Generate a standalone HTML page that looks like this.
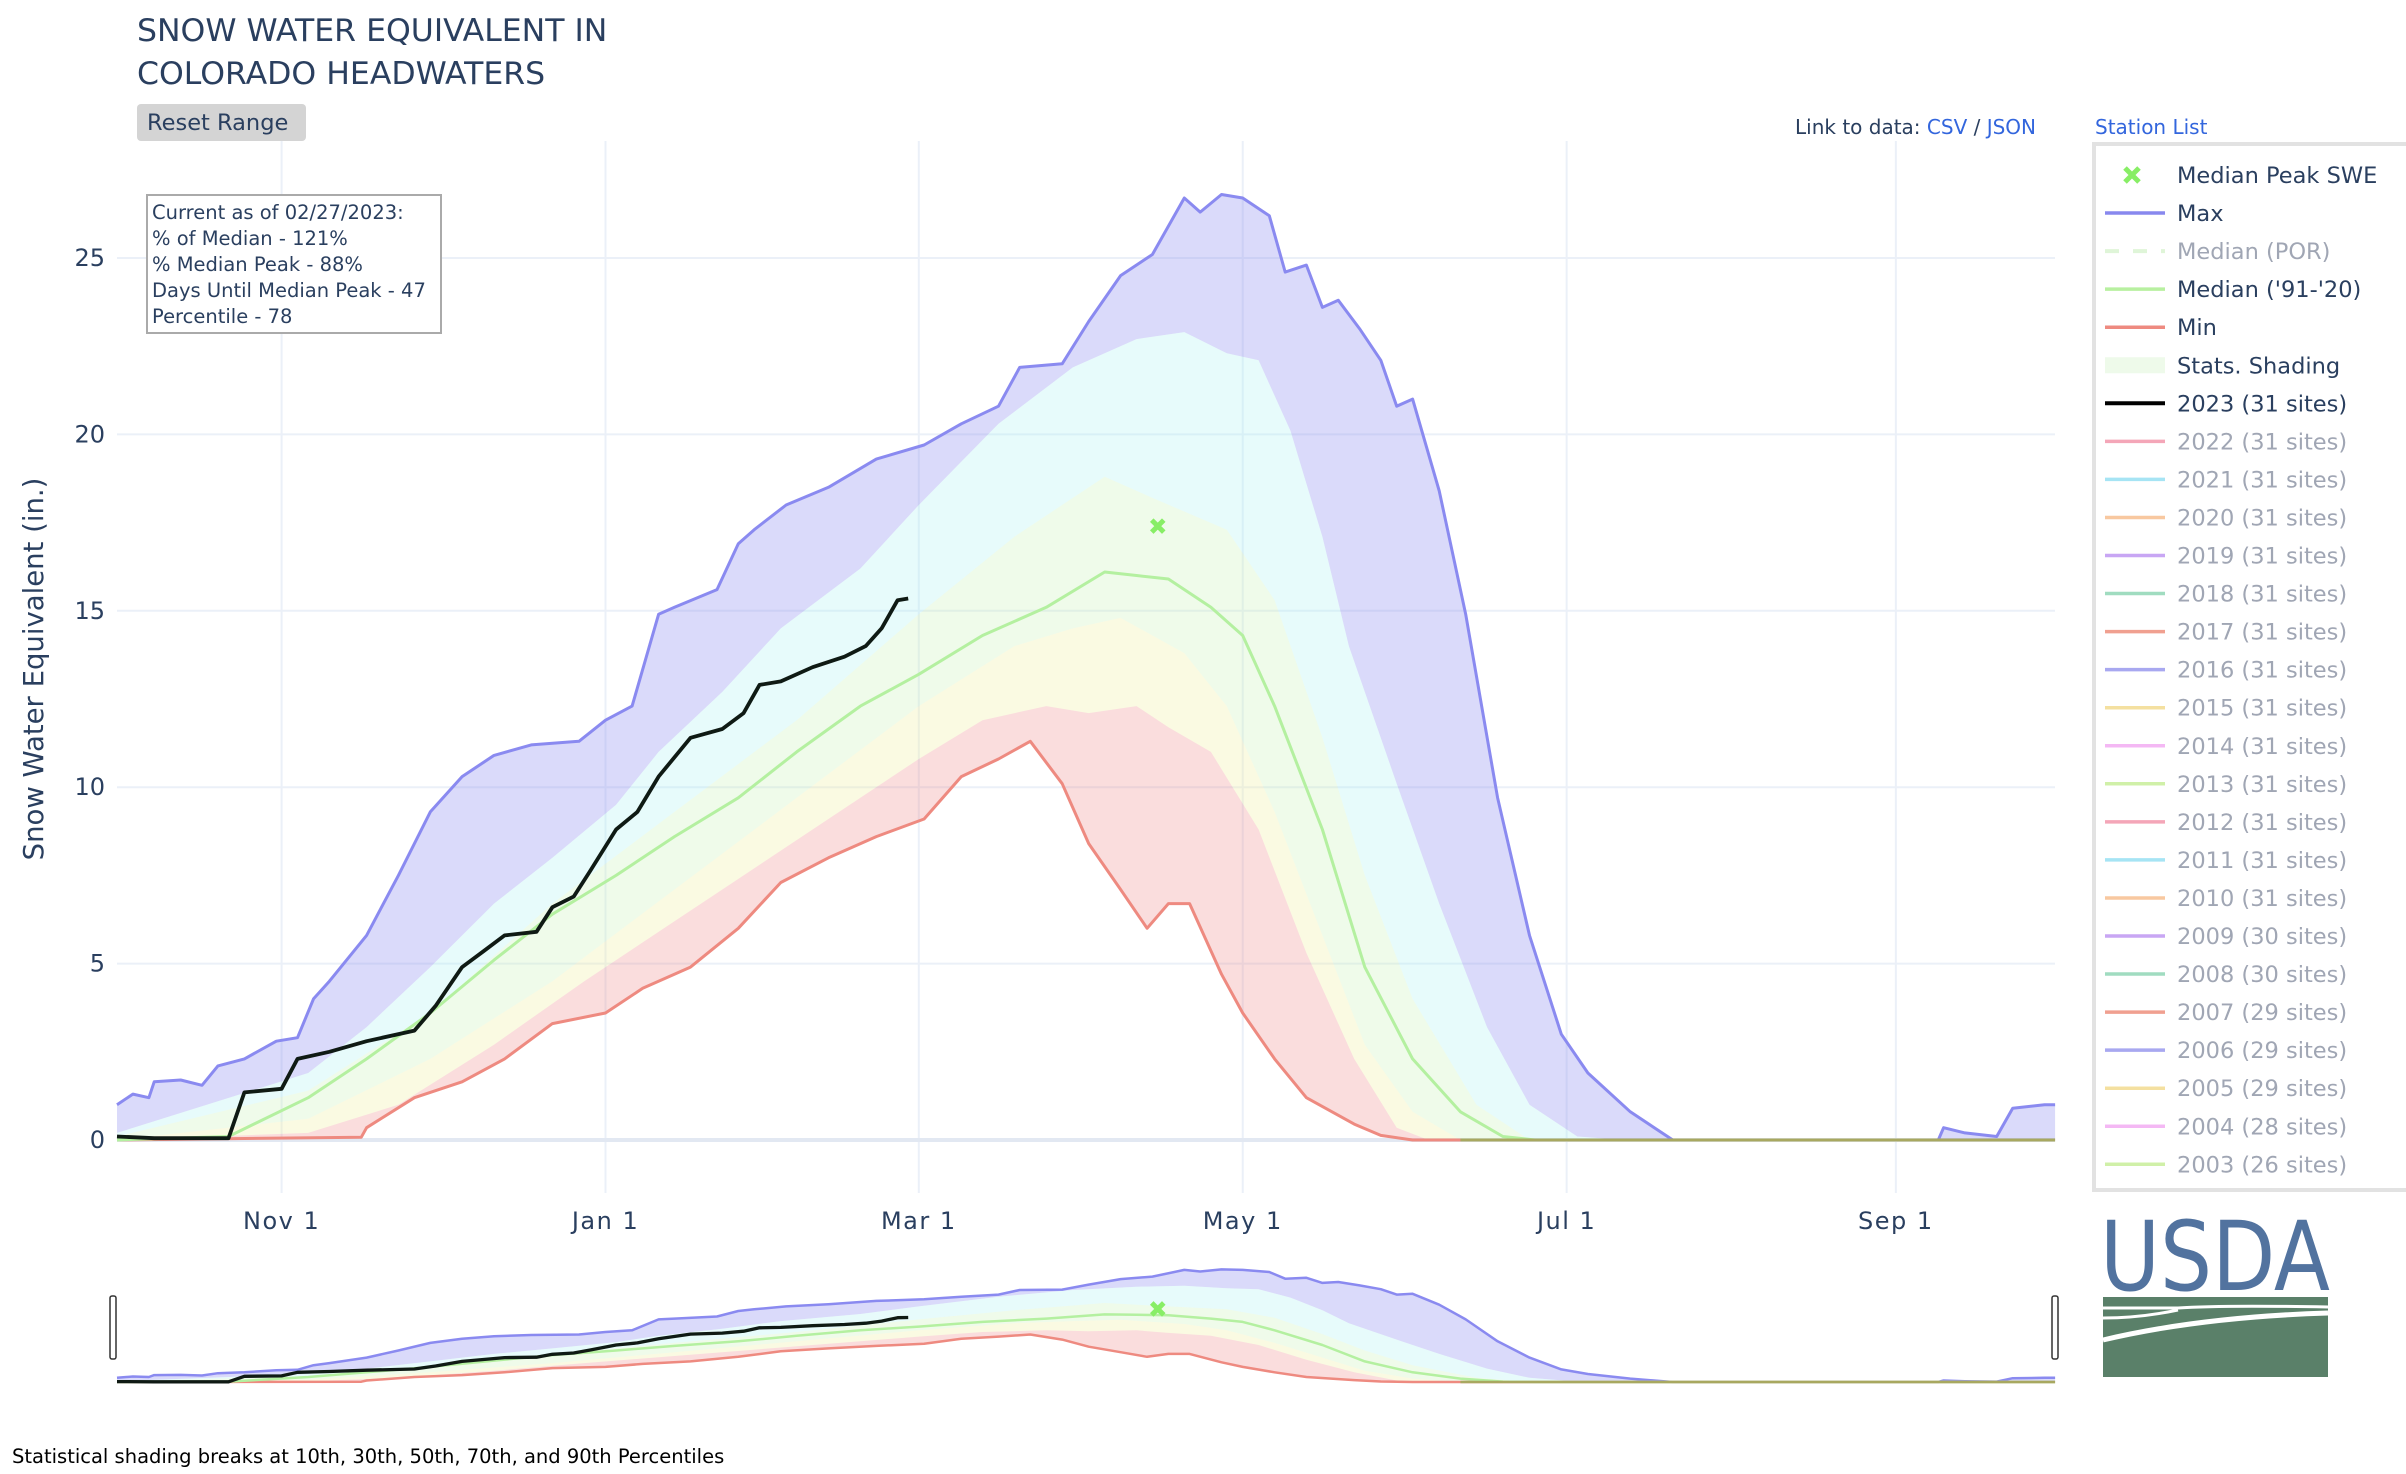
<!DOCTYPE html>
<html><head><meta charset="utf-8">
<style>
body{margin:0;background:#fff;width:2406px;height:1470px;overflow:hidden;font-family:"DejaVu Sans","Liberation Sans",sans-serif;}
svg text{font-family:"DejaVu Sans","Liberation Sans",sans-serif;}
</style></head>
<body>
<svg id="chart" width="2406" height="1470" viewBox="0 0 2406 1470" xmlns="http://www.w3.org/2000/svg">
<g id="grid"></g>
<g id="bands"></g>
<g id="lines"></g>
<g id="slider"></g>
<g id="axes"></g>

<text x="137" y="41" font-size="31.5" fill="#2a3f5f">SNOW WATER EQUIVALENT IN</text>
<text x="137" y="84" font-size="31.5" fill="#2a3f5f">COLORADO HEADWATERS</text>
<g>
<rect x="137" y="104" width="169" height="37" rx="4" fill="#d4d4d4"/>
<text x="147" y="130" font-size="22.5" fill="#2a3f5f">Reset Range</text></g>

<g>
<rect x="147" y="195" width="294" height="138" fill="#fff" stroke="#aaa" stroke-width="2"/>
<text x="152" y="219" font-size="19.5" fill="#2a3f5f">Current as of 02/27/2023:</text>
<text x="152" y="245" font-size="19.5" fill="#2a3f5f">% of Median - 121%</text>
<text x="152" y="271" font-size="19.5" fill="#2a3f5f">% Median Peak - 88%</text>
<text x="152" y="297" font-size="19.5" fill="#2a3f5f">Days Until Median Peak - 47</text>
<text x="152" y="323" font-size="19.5" fill="#2a3f5f">Percentile - 78</text></g>

<text x="1795" y="134" font-size="20" fill="#2a3f5f">Link to data: <tspan fill="#3366dd">CSV</tspan> / <tspan fill="#3366dd">JSON</tspan></text>
<text x="2095" y="134" font-size="20" fill="#3366dd">Station List</text>

<rect x="2094" y="144" width="320" height="1046" fill="#fff" stroke="#e2e2e2" stroke-width="4"/>
<g id="legend"></g>

<text transform="translate(43,669) rotate(-90)" text-anchor="middle" font-size="27.5" fill="#2a3f5f">Snow Water Equivalent (in.)</text>

<g>
<text x="2100" y="1290" font-family="Liberation Serif,serif" font-size="96" fill="#52739f" textLength="230" lengthAdjust="spacingAndGlyphs">USDA</text>
<rect x="2103" y="1297" width="225" height="80" fill="#5a8069"/>
<path d="M2103 1308 Q2140 1308 2178 1308 Q2220 1305 2328 1307" stroke="#fff" stroke-width="3" fill="none"/>
<path d="M2103 1340 Q2200 1317 2328 1313" stroke="#fff" stroke-width="5" fill="none"/>
<path d="M2103 1318 Q2140 1318 2178 1310" stroke="#fff" stroke-width="3" fill="none"/>
</g>

<text x="12" y="1463" font-size="19.5" fill="#000">Statistical shading breaks at 10th, 30th, 50th, 70th, and 90th Percentiles</text>
</svg>
<script>
// ---- data (day of water year from Oct 1, SWE inches) ----
const maxDays=[0,3,6,7,12,16,19,24,30,34,37,40,47,53,59,65,71,78,87,92,97,102,105,113,117,120,126,134,143,152,159,166,170,178,183,189,195,201,204,208,212,217,220,224,227,230,234,238,241,244,249,254,260,266,272,277,285,293,343,344,348,354,357,363,365];
const maxVals=[1.0,1.3,1.2,1.65,1.7,1.55,2.1,2.3,2.8,2.9,4.0,4.5,5.8,7.5,9.3,10.3,10.9,11.2,11.3,11.9,12.3,14.9,15.1,15.6,16.9,17.3,18.0,18.5,19.3,19.7,20.3,20.8,21.9,22.0,23.2,24.5,25.1,26.7,26.3,26.8,26.7,26.2,24.6,24.8,23.6,23.8,23.0,22.1,20.8,21.0,18.4,14.9,9.7,5.8,3.0,1.9,0.8,0,0,0.35,0.2,0.1,0.9,1.0,1.0];
const p90Days=[0,36,47,59,71,82,94,102,114,125,140,151,166,180,192,201,209,215,221,227,232,241,249,258,266,275,284,365];
const p90Vals=[0.2,1.9,3.2,4.9,6.7,8.0,9.5,11.0,12.7,14.5,16.2,18.0,20.3,21.9,22.7,22.9,22.3,22.1,20.1,17.1,14.0,10.1,6.7,3.2,1.0,0.1,0,0];
const p70Days=[0,36,59,82,105,128,151,169,186,195,209,218,227,235,244,256,266,365];
const p70Vals=[0.1,1.4,3.6,6.7,9.3,11.9,14.9,17.1,18.8,18.2,17.3,15.3,11.4,7.5,4.0,1.0,0,0];
const medDays=[0,21,36,47,59,71,82,94,105,117,128,140,151,163,175,186,192,198,206,212,218,227,235,244,253,261,267,365];
const medVals=[0,0.1,1.2,2.3,3.6,5.1,6.4,7.5,8.6,9.7,11.0,12.3,13.2,14.3,15.1,16.1,16.0,15.9,15.1,14.3,12.3,8.8,4.9,2.3,0.8,0.1,0,0];
const p30Days=[0,36,59,82,105,128,151,169,180,189,201,209,218,227,235,244,253,365];
const p30Vals=[0,0.6,2.3,4.5,7.1,9.7,12.3,14.0,14.5,14.8,13.8,12.3,9.3,5.8,2.7,0.8,0,0];
const p10Days=[0,36,53,71,88,105,123,140,151,163,175,183,192,198,206,215,224,233,241,247,365];
const p10Vals=[0,0.2,1.0,2.7,4.5,6.2,8.0,9.7,10.8,11.9,12.3,12.1,12.3,11.7,11.0,8.8,5.3,2.3,0.35,0,0];
const minDays=[0,46,47,56,65,73,82,92,99,108,117,125,134,143,152,159,166,172,178,183,189,194,198,202,208,212,218,224,233,238,244,365];
const minVals=[0,0.08,0.35,1.2,1.65,2.3,3.3,3.6,4.3,4.9,6.0,7.3,8.0,8.6,9.1,10.3,10.8,11.3,10.1,8.4,7.1,6.0,6.7,6.7,4.7,3.6,2.3,1.2,0.45,0.13,0,0];
const cur23Days=[0,7,21,24,31,34,40,47,56,60,65,69,73,79,82,86,89,94,98,102,108,114,118,121,125,131,137,141,144,147,149];
const cur23Vals=[0.1,0.05,0.05,1.35,1.45,2.3,2.5,2.8,3.1,3.8,4.9,5.35,5.8,5.9,6.6,6.9,7.6,8.8,9.3,10.3,11.4,11.65,12.1,12.9,13.0,13.4,13.7,14.0,14.5,15.3,15.35];
const peakDay=[196];
const peakVal=[17.4];
const xTickDays=[31,92,151,212,273,335];
const xTickLabels=['Nov 1','Jan 1','Mar 1','May 1','Jul 1','Sep 1'];
const yTicks=[0,5,10,15,20,25];
const legendNames=['Median Peak SWE','Max','Median (POR)',"Median ('91-'20)",'Min','Stats. Shading','2023 (31 sites)','2022 (31 sites)','2021 (31 sites)','2020 (31 sites)','2019 (31 sites)','2018 (31 sites)','2017 (31 sites)','2016 (31 sites)','2015 (31 sites)','2014 (31 sites)','2013 (31 sites)','2012 (31 sites)','2011 (31 sites)','2010 (31 sites)','2009 (30 sites)','2008 (30 sites)','2007 (29 sites)','2006 (29 sites)','2005 (29 sites)','2004 (28 sites)','2003 (26 sites)'];
const legendColors=['#88ee66','#8888ee','#dff5d8','#b8f0a0','#ee8a80','#eefaea','#000000','#f4a6b8','#a6e4f4','#f8c8a0','#c8a6f4','#a0dcc0','#f0a090','#a8a8f0','#f4e0a0','#f4b8f4','#d0f0a8','#f4a6b8','#a6e4f4','#f8c8a0','#c8a6f4','#a0dcc0','#f0a090','#a8a8f0','#f4e0a0','#f4b8f4','#d0f0a8'];

const NS='http://www.w3.org/2000/svg';
const X=d=>117+d*5.31;
const Y=v=>1140-v*35.28;
const YS=v=>1382-v*4.2;
function mk(tag,attrs,parent){const e=document.createElementNS(NS,tag);for(const k in attrs)e.setAttribute(k,attrs[k]);parent.appendChild(e);return e;}
function pts(ds,vs,yf){return ds.map((d,i)=>X(d).toFixed(1)+','+yf(vs[i]).toFixed(1));}
function band(g,uD,uV,lD,lV,fill,yf,name){
  const p=pts(uD,uV,yf).concat(pts(lD,lV,yf).reverse());
  const e=mk('polygon',{points:p.join(' '),fill:fill},g);
  
  
}
function line(g,ds,vs,col,w,yf,name){
  const e=mk('polyline',{points:pts(ds,vs,yf).join(' '),fill:'none',stroke:col,'stroke-width':w,'stroke-linejoin':'round'},g);
  
  
}
const grid=document.getElementById('grid');
xTickDays.forEach(d=>{const e=mk('line',{x1:X(d),x2:X(d),y1:141,y2:1193,stroke:'#ebf0f8','stroke-width':2},grid);

});
yTicks.forEach(v=>{const e=mk('line',{x1:117,x2:2055,y1:Y(v),y2:Y(v),stroke:v===0?'#e2e8f2':'#ebf0f8','stroke-width':v===0?4:2},grid);

});

function drawAll(g,yf,lw){
  band(g,maxDays,maxVals,p90Days,p90Vals,'rgba(140,140,240,0.32)',yf,'band-90-max');
  band(g,p90Days,p90Vals,p70Days,p70Vals,'rgba(160,240,240,0.25)',yf,'band-70-90');
  band(g,p70Days,p70Vals,p30Days,p30Vals,'rgba(190,240,170,0.25)',yf,'band-30-70');
  band(g,p30Days,p30Vals,p10Days,p10Vals,'rgba(240,240,160,0.3)',yf,'band-10-30');
  band(g,p10Days,p10Vals,minDays,minVals,'rgba(235,120,120,0.25)',yf,'band-min-10');
  line(g,maxDays,maxVals,'#8a8af0',lw,yf,'max-line');
  line(g,minDays,minVals,'#ee8a80',lw,yf,'min-line');
  line(g,medDays,medVals,'#b4f0a0',lw,yf,'median-line');
  const z=mk('line',{x1:X(253),x2:2055,y1:yf(0),y2:yf(0),stroke:'#a8a860','stroke-width':lw},g);
  
  
  line(g,cur23Days,cur23Vals,'#0f1a14',lw+0.8,yf,'line-2023');
  const px=X(peakDay[0]),py=yf(peakVal[0]);
  const m=mk('path',{d:`M${px-6},${py-6}L${px+6},${py+6}M${px+6},${py-6}L${px-6},${py+6}`,stroke:'#88ee66','stroke-width':5},g);
  
  
}
drawAll(document.getElementById('bands'),Y,3);
const sl=document.getElementById('slider');
drawAll(sl,YS,2.5);
[[113],[2055]].forEach(a=>{const h=mk('rect',{x:a[0]-3,y:1296,width:6,height:63,rx:2,fill:'#fff',stroke:'#333','stroke-width':1.5},sl);

});

const ax=document.getElementById('axes');
xTickDays.forEach((d,i)=>{const t=mk('text',{x:X(d),y:1229,'text-anchor':'middle','font-size':24,fill:'#2a3f5f','letter-spacing':1.5},ax);t.textContent=xTickLabels[i];

});
yTicks.forEach(v=>{const t=mk('text',{x:105,y:Y(v)+8,'text-anchor':'end','font-size':24,fill:'#2a3f5f'},ax);t.textContent=v;

});

const lg=document.getElementById('legend');
legendNames.forEach((n,i)=>{
  const y=175+i*38.05;
  const g=mk('g',{},lg);
  
  
  const c=legendColors[i];
  if(i===0){mk('path',{d:`M2125,${y-7}L2139,${y+7}M2139,${y-7}L2125,${y+7}`,stroke:c,'stroke-width':5},g);}
  else if(i===2){mk('line',{x1:2105,x2:2165,y1:y,y2:y,stroke:c,'stroke-width':4,'stroke-dasharray':'14,14'},g);}
  else if(i===5){mk('rect',{x:2105,y:y-8,width:60,height:16,fill:c},g);}
  else mk('line',{x1:2105,x2:2165,y1:y,y2:y,stroke:c,'stroke-width':i===6?4:3.5},g);
  const hidden=(i===2||i>=7);
  const t=mk('text',{x:2177,y:y+8,'font-size':22.5,fill:hidden?'#a0a6b4':'#2a3f5f'},g);
  t.textContent=n;
});
</script>
</body></html>
